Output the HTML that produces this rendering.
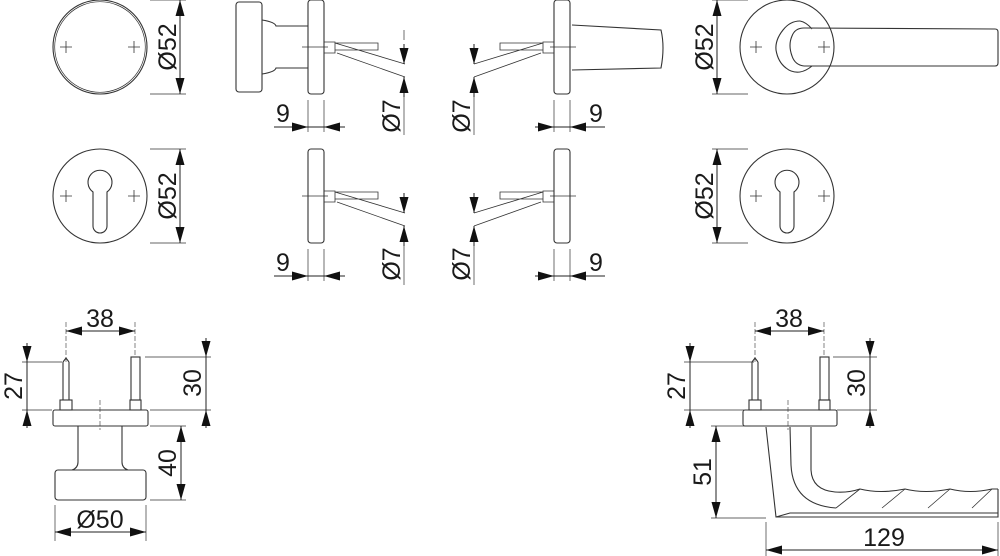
<!DOCTYPE html>
<html><head><meta charset="utf-8"><style>
html,body{margin:0;padding:0;background:#fff;}
svg{display:block;}
text{font-family:"Liberation Sans",sans-serif;font-size:25px;fill:#1a1a1a;}
</style></head><body>
<svg width="1000" height="556" viewBox="0 0 1000 556" xmlns="http://www.w3.org/2000/svg">
<defs>
<marker id="a" viewBox="0 0 16 9" refX="16" refY="4.5" markerWidth="16" markerHeight="9" markerUnits="userSpaceOnUse" orient="auto"><path d="M0,0 L16,4.5 L0,9 Z" fill="#111"/></marker>
</defs>
<g fill="none" stroke="#333" stroke-width="1.1">
<circle cx="100" cy="47" r="47"/><circle cx="100" cy="47" r="45.3" stroke-width="0.7"/>
<path d="M60,47h12M66,41v12M128,47h12M134,41v12" stroke-width="0.8"/>
<path d="M150,0h36M150,94h36" stroke-width="0.7"/>
<circle cx="100" cy="196" r="47"/>
<path d="M93,226 L93,192 A12,12 0 1 1 107,192 L107,226 A7,7 0 0 1 93,226Z"/>
<path d="M60,196h12M66,190v12M128,196h12M134,190v12" stroke-width="0.8"/>
<path d="M150,149h36M150,243h36" stroke-width="0.7"/>
<rect x="236" y="2" width="26" height="90" rx="3"/>
<path d="M262,20 Q275,22 276,26 L308,26 M262,74 Q275,72 276,68 L308,68"/>
<rect x="308" y="0" width="16" height="94" rx="3"/>
<path d="M324,42h11v11h-11M335,43h43v7h-43M335,43 L405,64M337,53 L405,77M302,47h26" stroke-width="0.8"/>
<path d="M308,100v32M324,100v32M404,30v10M404,85v50" stroke-width="0.7"/>
<rect x="308" y="149" width="16" height="94" rx="3"/>
<path d="M324,191h11v11h-11M335,192h43v7h-43M335,192 L405,213M337,202 L405,226M302,196h26" stroke-width="0.8"/>
<path d="M308,249v32M324,249v32M404,235v50" stroke-width="0.7"/>
<rect x="554" y="0" width="16" height="94" rx="3"/>
<path d="M572,25 L661,30 Q665,47 661,68 L572,70"/>
<path d="M554,42h-11v11h11M543,43h-43v7h43M543,43 L474,64M541,53 L474,77M550,47h26" stroke-width="0.8"/>
<path d="M554,100v32M570,100v32M474,85v50" stroke-width="0.7"/>
<rect x="554" y="149" width="16" height="94" rx="3"/>
<path d="M554,191h-11v11h11M543,192h-43v7h43M543,192 L474,213M541,202 L474,226M550,196h26" stroke-width="0.8"/>
<path d="M554,249v32M570,249v32M474,235v50" stroke-width="0.7"/>
<circle cx="787" cy="47" r="47"/>
<path d="M800,21 Q790,21 783,30 Q775,40 776,50 Q778,62 786,68 Q792,73 800,72 M804,28 Q795,28 792,36 Q788,45 792,56 Q795,65 804,66"/>
<path d="M804,28 L995,29 Q998,29 998,32 L998,63 Q998,66 995,66 L804,66 M800,21 Q806,22 812,29 M800,72 Q806,71 812,66"/>
<path d="M750,47h12M756,41v12M818,47h12M824,41v12" stroke-width="0.8"/>
<path d="M712,0h36M712,94h36" stroke-width="0.7"/>
<circle cx="787" cy="196" r="47"/>
<path d="M780,226 L780,192 A12,12 0 1 1 794,192 L794,226 A7,7 0 0 1 780,226Z"/>
<path d="M750,196h12M756,190v12M818,196h12M824,190v12" stroke-width="0.8"/>
<path d="M712,149h36M712,243h36" stroke-width="0.7"/>
<path d="M63,362 L63,400 M69,362 L69,400 M63,362 L66,358 L69,362" />
<rect x="60" y="400" width="12" height="10"/>
<rect x="131" y="357" width="9" height="43"/><rect x="130" y="400" width="11" height="10"/>
<rect x="53" y="410" width="95" height="16" rx="2"/>
<path d="M78,426 L78,462 Q78,468 72,470 M122,426 L122,462 Q122,468 128,470"/>
<rect x="55" y="470" width="91" height="30" rx="3"/>
<path d="M66,322v40M135,322v35M100,400v30" stroke-width="0.6" stroke-dasharray="5,2"/>
<path d="M22,362h40M22,410h30M145,357h66M150,410h61M150,426h36M150,500h36M55,505v36M146,505v36" stroke-width="0.7"/>
<path d="M752,362 L752,400 M758,362 L758,400 M752,362 L755,358 L758,362"/>
<rect x="749" y="400" width="12" height="10"/>
<rect x="820" y="357" width="9" height="43"/><rect x="819" y="400" width="11" height="10"/>
<rect x="743" y="410" width="94" height="16" rx="2"/>
<path d="M766,427 L776,517 L998,517 L998,489 M776,517 L790,513 L998,513"/>
<path d="M790,427 L791,465 Q793,505 836,508"/>
<path d="M811,427 L811,470 Q812,490 835,492 Q848,493 860,489 Q880,494 905,489 Q925,494 950,489 Q970,494 992,489 L998,489"/>
<path d="M860,489 L836,508 M905,489 L882,508 M950,489 L928,508 M992,489 L972,508" stroke-width="0.8"/>
<path d="M755,322v40M824,322v35M788,400v30" stroke-width="0.6" stroke-dasharray="5,2"/>
<path d="M684,362h70M684,410h60M833,357h44M837,410h40M711,426h40M711,518h55M766,522v36M998,522v36" stroke-width="0.7"/>
</g>
<g stroke="#222" stroke-width="1" fill="none">
<path d="M180,47 L180,0" marker-end="url(#a)"/><path d="M180,47 L180,94" marker-end="url(#a)"/>
<path d="M180,196 L180,149" marker-end="url(#a)"/><path d="M180,196 L180,243" marker-end="url(#a)"/>
<path d="M717,47 L717,0" marker-end="url(#a)"/><path d="M717,47 L717,94" marker-end="url(#a)"/>
<path d="M717,196 L717,149" marker-end="url(#a)"/><path d="M717,196 L717,243" marker-end="url(#a)"/>
<path d="M274,127 L308,127" marker-end="url(#a)"/><path d="M345,127 L324,127" marker-end="url(#a)"/><path d="M308,127h16"/>
<path d="M274,276 L308,276" marker-end="url(#a)"/><path d="M345,276 L324,276" marker-end="url(#a)"/><path d="M308,276h16"/>
<path d="M535,127 L554,127" marker-end="url(#a)"/><path d="M605,127 L570,127" marker-end="url(#a)"/><path d="M554,127h16"/>
<path d="M535,276 L554,276" marker-end="url(#a)"/><path d="M605,276 L570,276" marker-end="url(#a)"/><path d="M554,276h16"/>
<path d="M404,44 L404,64" marker-end="url(#a)"/><path d="M404,97 L404,77" marker-end="url(#a)"/>
<path d="M404,193 L404,213" marker-end="url(#a)"/><path d="M404,246 L404,226" marker-end="url(#a)"/>
<path d="M474,44 L474,64" marker-end="url(#a)"/><path d="M474,97 L474,77" marker-end="url(#a)"/>
<path d="M474,193 L474,213" marker-end="url(#a)"/><path d="M474,246 L474,226" marker-end="url(#a)"/>
<path d="M100,331 L66,331" marker-end="url(#a)"/><path d="M100,331 L135,331" marker-end="url(#a)"/>
<path d="M27,343 L27,362" marker-end="url(#a)"/><path d="M27,428 L27,410" marker-end="url(#a)"/><path d="M27,362v48"/>
<path d="M206,338 L206,357" marker-end="url(#a)"/><path d="M206,428 L206,410" marker-end="url(#a)"/><path d="M206,357v53"/>
<path d="M181,463 L181,426" marker-end="url(#a)"/><path d="M181,463 L181,500" marker-end="url(#a)"/>
<path d="M100,532 L55,532" marker-end="url(#a)"/><path d="M100,532 L146,532" marker-end="url(#a)"/>
<path d="M789,331 L755,331" marker-end="url(#a)"/><path d="M789,331 L824,331" marker-end="url(#a)"/>
<path d="M690,343 L690,362" marker-end="url(#a)"/><path d="M690,428 L690,410" marker-end="url(#a)"/><path d="M690,362v48"/>
<path d="M870,338 L870,357" marker-end="url(#a)"/><path d="M870,428 L870,410" marker-end="url(#a)"/><path d="M870,357v53"/>
<path d="M716,472 L716,426" marker-end="url(#a)"/><path d="M716,472 L716,518" marker-end="url(#a)"/>
<path d="M880,550 L766,550" marker-end="url(#a)"/><path d="M880,550 L998,550" marker-end="url(#a)"/>
</g>
<g text-anchor="middle">
<text transform="translate(176,47) rotate(-90)">Ø52</text>
<text transform="translate(176,196) rotate(-90)">Ø52</text>
<text transform="translate(713,47) rotate(-90)">Ø52</text>
<text transform="translate(713,196) rotate(-90)">Ø52</text>
<text transform="translate(400,116) rotate(-90)">Ø7</text>
<text transform="translate(400,264) rotate(-90)">Ø7</text>
<text transform="translate(470,116) rotate(-90)">Ø7</text>
<text transform="translate(470,264) rotate(-90)">Ø7</text>
<text x="283" y="122">9</text><text x="283" y="271">9</text>
<text x="596" y="122">9</text><text x="596" y="271">9</text>
<text x="100" y="327">38</text><text x="789" y="327">38</text>
<text transform="translate(22,386) rotate(-90)">27</text>
<text transform="translate(201,383) rotate(-90)">30</text>
<text transform="translate(176,463) rotate(-90)">40</text>
<text x="100" y="528">Ø50</text>
<text transform="translate(685,386) rotate(-90)">27</text>
<text transform="translate(865,383) rotate(-90)">30</text>
<text transform="translate(711,472) rotate(-90)">51</text>
<text x="884" y="546">129</text>
</g>
</svg>
</body></html>
